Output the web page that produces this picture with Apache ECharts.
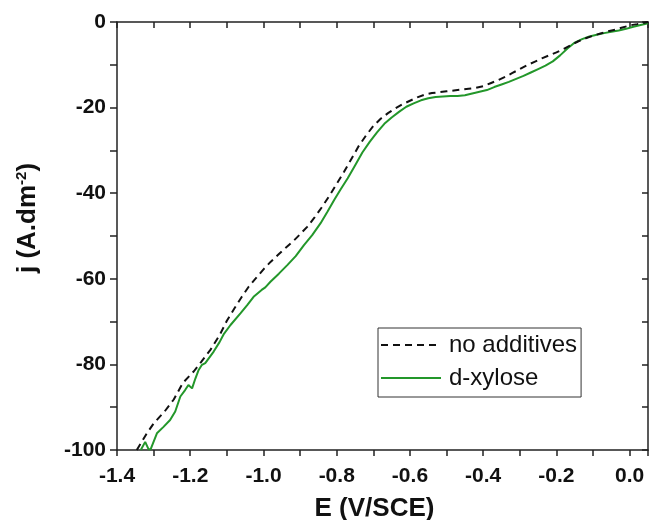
<!DOCTYPE html>
<html>
<head>
<meta charset="utf-8">
<script src="https://cdn.jsdelivr.net/npm/echarts@6/dist/echarts.min.js"></script>
<style>
  html, body { margin: 0; padding: 0; background: #ffffff; }
  #chart { width: 652px; height: 520px; }
</style>
</head>
<body>
<div id="chart"></div>
<script>
// E (V/SCE) vs j (A.dm-2)
const noAddE = [-1.346, -1.32, -1.30, -1.27, -1.245, -1.22, -1.19, -1.17, -1.145, -1.12, -1.10, -1.08, -1.06, -1.04, -1.02, -1.00,
  -0.98, -0.96, -0.94, -0.92, -0.90, -0.88, -0.86, -0.84, -0.82, -0.80, -0.78, -0.76, -0.74, -0.72, -0.70, -0.68, -0.66,
  -0.64, -0.62, -0.60, -0.58, -0.56, -0.54, -0.52, -0.50, -0.48, -0.46, -0.44, -0.42, -0.40, -0.38, -0.36, -0.34, -0.32,
  -0.30, -0.28, -0.26, -0.24, -0.22, -0.20, -0.18, -0.16, -0.14, -0.12, -0.10, -0.08, -0.06, -0.04, -0.02, 0.00, 0.02, 0.05];
const noAddJ = [-100, -96.3, -93.8, -91.0, -88.2, -84.3, -81.6, -79.4, -76.6, -73.2, -69.8, -67.0, -64.3, -61.8, -59.8, -57.8,
  -56.0, -54.4, -52.8, -51.3, -49.6, -47.8, -45.6, -43.2, -40.6, -37.8, -35, -32, -29, -26.5, -24.3, -22.6, -21.3,
  -20.2, -19.2, -18.4, -17.6, -17.0, -16.6, -16.4, -16.2, -16.0, -15.8, -15.6, -15.4, -15.0, -14.3, -13.6, -12.8, -11.9,
  -11.0, -10.1, -9.3, -8.5, -7.8, -7.1, -6.3, -5.4, -4.5, -3.8, -3.2, -2.7, -2.2, -1.8, -1.3, -0.8, -0.5, 0];

const xyloseE = [-1.335, -1.323, -1.314, -1.308, -1.291, -1.273, -1.255, -1.241, -1.227, -1.214, -1.205, -1.195, -1.186,
  -1.177, -1.168, -1.159, -1.136, -1.12, -1.109, -1.09, -1.063, -1.045, -1.027, -1.005, -0.995, -0.981, -0.958, -0.935,
  -0.912, -0.89, -0.867, -0.844, -0.825, -0.807, -0.79, -0.77,
  -0.75, -0.73, -0.71, -0.69, -0.67, -0.65, -0.63, -0.61, -0.59, -0.57, -0.55, -0.53, -0.51, -0.49, -0.47, -0.45, -0.43,
  -0.41, -0.39, -0.37, -0.35, -0.33, -0.31, -0.29, -0.27, -0.25, -0.23, -0.21, -0.19, -0.17, -0.15, -0.13, -0.11, -0.09,
  -0.07, -0.05, -0.03, -0.01, 0.01, 0.03, 0.05];
const xyloseJ = [-100, -98.1, -99.8, -99.8, -96.1, -94.6, -93.0, -91.0, -87.5, -86.0, -84.8, -85.6, -83.3,
  -81.3, -80.1, -79.7, -77.0, -74.8, -73.0, -70.8, -68.1, -66.2, -64.2, -62.6, -62.0, -60.7, -58.8, -56.8,
  -54.7, -52.2, -49.8, -47.0, -44.3, -41.6, -39.2, -36.5,
  -33.5, -30.5, -28, -25.8, -23.8, -22.3, -21, -19.8, -19, -18.3, -17.8, -17.5, -17.4, -17.3, -17.3, -17.1, -16.7,
  -16.3, -15.9, -15.2, -14.6, -14.0, -13.3, -12.6, -11.8, -11.0, -10.2, -9.2, -7.8, -6.2, -4.8, -4.0, -3.4, -3.0,
  -2.6, -2.3, -2.0, -1.6, -1.1, -0.7, -0.3];

const seriesNames = ['no additives', 'd-xylose'];

const font = '"Liberation Sans", Arial, sans-serif';
const ink = '#111111';

const chart = echarts.init(document.getElementById('chart'));

const zip = (xs, ys) => xs.map((x, i) => [x, ys[i]]);
const onStep = (v, step) => Math.abs(v / step - Math.round(v / step)) < 1e-6;

const frameAxis = {
  axisLine: { show: true, onZero: false, lineStyle: { color: '#222222', width: 1.5 } },
  splitLine: { show: false },
};

const option = {
  backgroundColor: '#ffffff',
  animation: false,
  grid: { left: 117, right: 4, top: 22, bottom: 70, containLabel: false, outerBoundsMode: 'none' },
  legend: {
    data: seriesNames,
    orient: 'vertical',
    left: 378,
    top: 328,
    width: 214,
    padding: [4, 4, 6, 2],
    itemGap: 7,
    itemWidth: 60,
    itemHeight: 14,
    itemStyle: { opacity: 0 },
    borderColor: '#333333',
    borderWidth: 1,
    textStyle: { fontFamily: font, fontSize: 24, color: ink, lineHeight: 26, padding: [0, 0, 0, 3] },
  },
  xAxis: [
    {
      ...frameAxis,
      type: 'value',
      position: 'bottom',
      min: -1.4,
      max: 0.05,
      interval: 0.1,
      name: 'E (V/SCE)',
      nameLocation: 'middle',
      nameGap: 46,
      nameTextStyle: { fontFamily: font, fontSize: 26, fontWeight: 'bold', color: ink, padding: [0, 16, 0, 0] },
      axisTick: { show: true, inside: false, length: 6, lineStyle: { color: '#222222', width: 1.5 } },
      axisLabel: {
        fontFamily: font, fontSize: 21, fontWeight: 'bold', color: ink, margin: 16,
        formatter: v => (onStep(v, 0.2) && v <= 0.001 ? v.toFixed(1) : ''),
      },
    },
    {
      ...frameAxis,
      type: 'value',
      position: 'top',
      min: -1.4,
      max: 0.05,
      interval: 0.1,
      axisTick: { show: true, inside: true, length: 6, lineStyle: { color: '#222222', width: 1.5 } },
      axisLabel: { show: false },
    },
  ],
  yAxis: [
    {
      ...frameAxis,
      type: 'value',
      position: 'left',
      min: -100,
      max: 0,
      interval: 10,
      name: '{a|j (A.dm}{s|-2}{a|)}',
      nameLocation: 'middle',
      nameGap: 76,
      nameTextStyle: {
        padding: [0, 0, 0, 36],
        rich: {
          a: { fontFamily: font, fontSize: 26, fontWeight: 'bold', color: ink },
          s: { fontFamily: font, fontSize: 15, fontWeight: 'bold', color: ink, padding: [0, 0, 12, 0] },
        },
      },
      axisTick: { show: true, inside: false, length: 7, lineStyle: { color: '#222222', width: 1.5 } },
      axisLabel: {
        fontFamily: font, fontSize: 21, fontWeight: 'bold', color: ink, margin: 11,
        formatter: v => (onStep(v, 20) ? String(v) : ''),
      },
    },
    {
      ...frameAxis,
      type: 'value',
      position: 'right',
      min: -100,
      max: 0,
      interval: 10,
      axisTick: { show: true, inside: true, length: 6, lineStyle: { color: '#222222', width: 1.5 } },
      axisLabel: { show: false },
    },
  ],
  series: [
    {
      name: seriesNames[0],
      type: 'line',
      xAxisIndex: 0,
      yAxisIndex: 0,
      data: zip(noAddE, noAddJ),
      symbol: 'none',
      z: 3,
      lineStyle: { color: '#111111', width: 2, type: [7, 5] },
      itemStyle: { color: '#111111' },
    },
    {
      name: seriesNames[1],
      type: 'line',
      xAxisIndex: 0,
      yAxisIndex: 0,
      data: zip(xyloseE, xyloseJ),
      symbol: 'none',
      z: 2,
      lineStyle: { color: '#23972a', width: 2 },
      itemStyle: { color: '#23972a' },
    },
  ],
};

chart.setOption(option);
</script>
</body>
</html>
